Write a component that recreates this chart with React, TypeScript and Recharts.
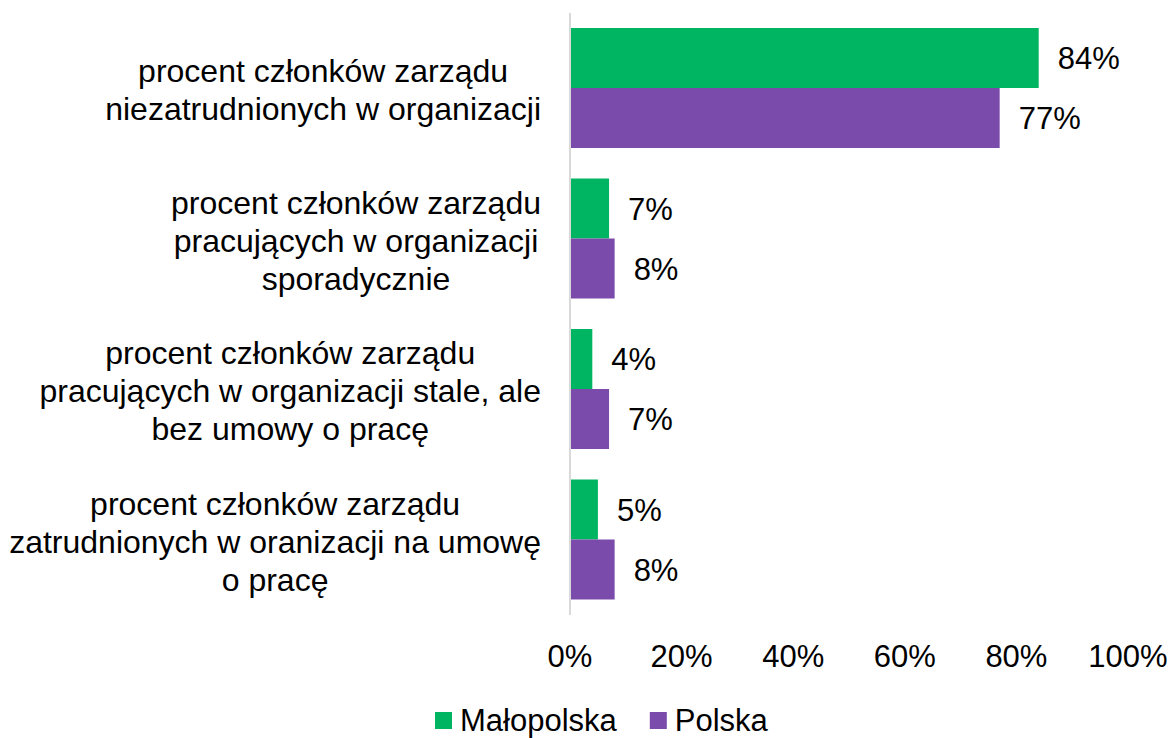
import React from 'react';
import { BarChart, Bar, XAxis, YAxis, Legend, LabelList } from 'recharts';

const categories = [
  'procent członków zarządu\nniezatrudnionych w organizacji',
  'procent członków zarządu\npracujących w organizacji\nsporadycznie',
  'procent członków zarządu\npracujących w organizacji stale, ale\nbez umowy o pracę',
  'procent członków zarządu\nzatrudnionych w oranizacji na umowę\no pracę',
];
const malopolska = [0.84, 0.07, 0.04, 0.05];
const polska = [0.77, 0.08, 0.07, 0.08];
const xTicks = [0, 0.2, 0.4, 0.6, 0.8, 1];
const seriesNames = ['Małopolska', 'Polska'];
const seriesColors = ['#00B561', '#7A4BAA'];

const data = categories.map((c, i) => ({ cat: c, m: malopolska[i], p: polska[i] }));

const FONT = "'Liberation Sans', Arial, sans-serif";
const FS = 31;
const CAT_FS = 32;

let ctx: CanvasRenderingContext2D | null = null;
const measure = (s: string, size: number = FS): number => {
  if (!ctx && typeof document !== 'undefined') {
    const c = document.createElement('canvas');
    ctx = c.getContext('2d');
  }
  if (ctx) {
    ctx.font = `${size}px ${FONT}`;
    return ctx.measureText(s).width;
  }
  return s.length * size * 0.5;
};

const pct = (v: number) => `${Math.round(v * 100)}%`;

const YTick = (props: any) => {
  const { x, y, payload } = props;
  const lines = String(payload.value).split('\n');
  const maxW = Math.max(...lines.map((l) => measure(l, CAT_FS)));
  const cx = x - maxW / 2;
  const n = lines.length;
  return (
    <g>
      {lines.map((l, i) => (
        <text
          key={i}
          x={cx}
          y={y + 13 + (i - (n - 1) / 2) * 38}
          textAnchor="middle"
          fontSize={CAT_FS}
          fontFamily={FONT}
          fill="#000"
        >
          {l}
        </text>
      ))}
    </g>
  );
};

const LegendContent = () => {
  let x = 435;
  const items = seriesNames.map((name, i) => {
    const rx = x;
    const tx = rx + 25;
    const w = measure(name);
    x = tx + w + 33;
    return (
      <g key={name}>
        <rect x={rx} y={12} width={17} height={17} fill={seriesColors[i]} />
        <text x={tx} y={31} fontSize={FS} fontFamily={FONT} fill="#000">
          {name}
        </text>
      </g>
    );
  });
  return (
    <svg width={1171} height={38} style={{ display: 'block' }}>
      {items}
    </svg>
  );
};

export default function App() {
  return (
    <div style={{ position: 'absolute', left: 0, top: 0, width: 1171, height: 738, background: '#fff' }}>
      <BarChart
        width={1171}
        height={738}
        data={data}
        layout="vertical"
        margin={{ top: 13, right: 43, left: 0, bottom: 63 }}
        barCategoryGap="10%"
        barGap={0}
      >
        <XAxis
          type="number"
          domain={[0, 1]}
          ticks={xTicks}
          tickFormatter={pct}
          axisLine={false}
          tickLine={false}
          tickSize={0}
          tickMargin={30}
          height={60}
          interval={0}
          tick={{ fontSize: FS, fontFamily: FONT, fill: '#000' }}
        />
        <YAxis
          type="category"
          dataKey="cat"
          width={570}
          axisLine={{ stroke: '#D9D9D9', strokeWidth: 2 }}
          tickLine={false}
          tickSize={0}
          tickMargin={29}
          interval={0}
          tick={<YTick />}
        />
        <Legend
          layout="vertical"
          align="center"
          verticalAlign="middle"
          wrapperStyle={{ top: 700, left: 0, width: 1171, height: 38 }}
          content={<LegendContent />}
        />
        <Bar dataKey="m" name={seriesNames[0]} fill={seriesColors[0]} isAnimationActive={false}>
          <LabelList dataKey="m" position="right" offset={19} formatter={pct} fontSize={FS} fontFamily={FONT} fill="#000" />
        </Bar>
        <Bar dataKey="p" name={seriesNames[1]} fill={seriesColors[1]} isAnimationActive={false}>
          <LabelList dataKey="p" position="right" offset={19} formatter={pct} fontSize={FS} fontFamily={FONT} fill="#000" />
        </Bar>
      </BarChart>
    </div>
  );
}
